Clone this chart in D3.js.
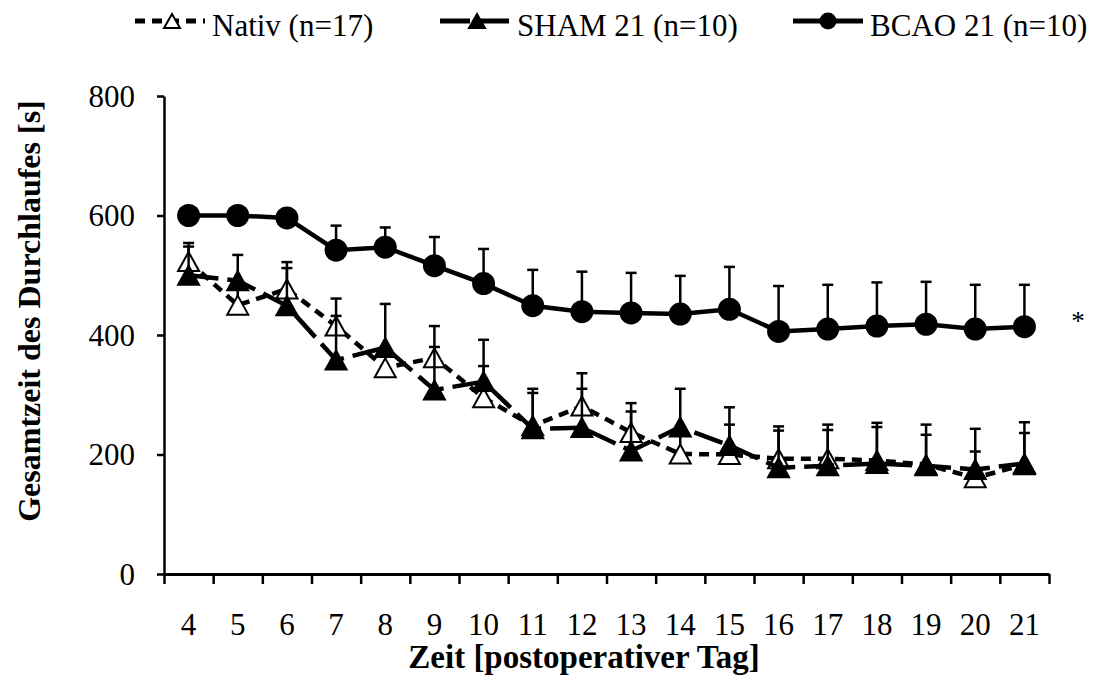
<!DOCTYPE html>
<html>
<head>
<meta charset="utf-8">
<script src="https://cdn.jsdelivr.net/npm/d3@7"></script>
<style>
  body { margin: 0; background: #fff; }
  svg { display: block; }
  text { font-family: "Liberation Serif", "Times New Roman", serif; fill: #000; }
</style>
</head>
<body>
<svg id="chart"></svg>
<script>
// postoperative days
const days = ["4", "5", "6", "7", "8", "9", "10", "11", "12", "13", "14", "15", "16", "17", "18", "19", "20", "21"];

// mean values [s] and upper error (SD)
const nativMean = [523, 450, 477, 415, 345, 362, 295, 248, 281, 237, 201, 200, 193, 193, 190, 183, 161, 183];
const nativErr  = [31, 35, 45, 46, 30, 53, 53, 55, 55, 49, 39, 50, 54, 57, 63, 50, 44, 53];
const shamMean  = [500, 491, 449, 358, 379, 308, 322, 243, 245, 206, 246, 215, 178, 181, 185, 181, 175, 185];
const shamErr   = [48, 43, 63, 74, 73, 72, 70, 67, 65, 66, 64, 64, 62, 60, 61, 69, 68, 69];
const bcaoMean  = [600, 600, 596, 542, 547, 516, 486, 449, 439, 437, 435, 443, 406, 410, 415, 418, 410, 414];
const bcaoErr   = [0, 0, 0, 41, 33, 48, 58, 60, 67, 67, 64, 71, 76, 74, 73, 71, 74, 70];

const yTicks = [0, 200, 400, 600, 800];
const legendNames = ["Nativ (n=17)", "SHAM 21 (n=10)", "BCAO 21  (n=10)"];

const W = 1099, H = 679;
const svg = d3.select("#chart").attr("width", W).attr("height", H);

const x = d3.scaleBand().domain(days).range([164, 1049]);
const xEdge = d3.scaleLinear().domain([0, days.length]).range([164, 1049]);
const y = d3.scaleLinear().domain([0, 800]).range([574, 96]);
const cx = d => x(d) + x.bandwidth() / 2;

// triangle marker centred in its box (like Excel)
const tri = (w, h) => `M0,${-h / 2}L${w / 2},${h / 2}L${-w / 2},${h / 2}Z`;

// ---- axes
const yAxis = svg.append("g")
  .attr("transform", "translate(164,0)")
  .call(d3.axisLeft(y).tickValues(yTicks).tickSize(7).tickSizeOuter(0).tickPadding(22));
yAxis.select(".domain").attr("stroke-width", 2.5);
yAxis.selectAll(".tick line").attr("stroke-width", 2.5);
yAxis.selectAll(".tick text").attr("font-size", 31).attr("dy", "0.33em")
  .style("font-family", "Liberation Serif");

const xAxis = svg.append("g")
  .attr("transform", "translate(0,574)")
  .call(d3.axisBottom(xEdge).tickValues(d3.range(days.length + 1)).tickSize(10).tickSizeOuter(0).tickFormat(""));
xAxis.select(".domain").attr("stroke-width", 3);
xAxis.selectAll(".tick line").attr("stroke-width", 2.5);

const xLabels = svg.append("g")
  .attr("transform", "translate(0,574)")
  .call(d3.axisBottom(x).tickSize(0));
xLabels.select(".domain").remove();
xLabels.selectAll(".tick text").attr("font-size", 31).attr("y", 61).attr("dy", 0)
  .style("font-family", "Liberation Serif");

svg.append("text")
  .attr("x", 584).attr("y", 668)
  .attr("text-anchor", "middle")
  .attr("font-size", 33).attr("font-weight", "bold")
  .text("Zeit [postoperativer Tag]");

svg.append("text")
  .attr("transform", "translate(40,311) rotate(-90)")
  .attr("text-anchor", "middle")
  .attr("font-size", 32).attr("font-weight", "bold")
  .text("Gesamtzeit des Durchlaufes [s]");

// ---- series
function drawSeries(means, errs, dash, marker) {
  const g = svg.append("g");
  const pts = days.map((d, i) => ({ d, v: means[i], e: errs[i] }));

  // upper error bars
  g.selectAll("line.err").data(pts).enter().append("line")
    .attr("x1", p => cx(p.d)).attr("x2", p => cx(p.d))
    .attr("y1", p => y(p.v)).attr("y2", p => y(p.v + p.e))
    .attr("stroke", "#000").attr("stroke-width", 2.5);
  g.selectAll("line.cap").data(pts).enter().append("line")
    .attr("x1", p => cx(p.d) - 5.5).attr("x2", p => cx(p.d) + 5.5)
    .attr("y1", p => y(p.v + p.e)).attr("y2", p => y(p.v + p.e))
    .attr("stroke", "#000").attr("stroke-width", 2.5);

  g.append("path")
    .datum(pts)
    .attr("d", d3.line().x(p => cx(p.d)).y(p => y(p.v)))
    .attr("fill", "none").attr("stroke", "#000").attr("stroke-width", 4.5)
    .attr("stroke-dasharray", dash);

  if (marker === "circle") {
    g.selectAll("circle").data(pts).enter().append("circle")
      .attr("cx", p => cx(p.d)).attr("cy", p => y(p.v)).attr("r", 11.5)
      .attr("fill", "#000");
  } else {
    g.selectAll("path.m").data(pts).enter().append("path")
      .attr("transform", p => `translate(${cx(p.d)},${y(p.v)})`)
      .attr("d", tri(21, 19))
      .attr("fill", marker === "open" ? "#fff" : "#000")
      .attr("stroke", "#000").attr("stroke-width", 2);
  }
}

drawSeries(nativMean, nativErr, "10,7", "open");
drawSeries(shamMean, shamErr, "30,9", "filled");
drawSeries(bcaoMean, bcaoErr, null, "circle");

svg.append("text")
  .attr("x", 1078).attr("y", 330)
  .attr("text-anchor", "middle").attr("font-size", 27)
  .text("*");

// ---- legend
const legendX = [135, 440, 793];
const legendDash = ["10,7", "30,9", null];
const legendMarker = ["open", "filled", "circle"];
legendNames.forEach((name, i) => {
  const g = svg.append("g").attr("transform", `translate(${legendX[i]},21)`);
  g.append("line").attr("x1", 0).attr("x2", 70)
    .attr("stroke", "#000").attr("stroke-width", 5)
    .attr("stroke-dasharray", legendDash[i]);
  if (legendMarker[i] === "circle") {
    g.append("circle").attr("cx", 35).attr("r", 8.5).attr("fill", "#000");
  } else {
    g.append("path").attr("transform", "translate(37,0)")
      .attr("d", tri(16, 14))
      .attr("fill", legendMarker[i] === "open" ? "#fff" : "#000")
      .attr("stroke", "#000").attr("stroke-width", 2);
  }
  g.append("text").attr("x", 77).attr("y", 15)
    .attr("font-size", 31).text(name);
});
</script>
</body>
</html>
